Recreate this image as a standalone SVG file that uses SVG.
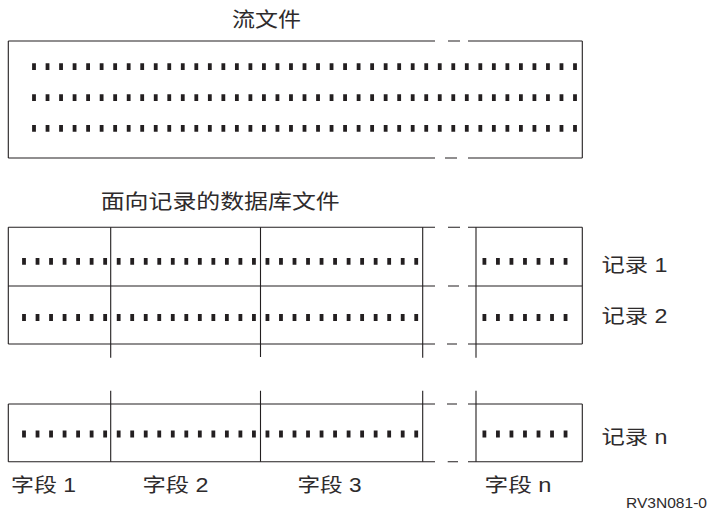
<svg xmlns="http://www.w3.org/2000/svg" width="710" height="511" viewBox="0 0 710 511">
<style>
.ln{stroke:#231f20;stroke-width:1.1;fill:none}
.dots{stroke:#231f20;stroke-width:6.8;stroke-dasharray:3.8 9.725;fill:none}
.t{font-family:"Liberation Sans","Noto Sans CJK SC",sans-serif;font-size:19.5px;fill:#2e2b2c}
.ti{font-size:20.5px}
.id{font-size:15.5px}
</style>
<rect width="710" height="511" fill="#ffffff"/>
<g id="stream-file">
<text class="t ti" x="232" y="26.5" textLength="69" lengthAdjust="spacingAndGlyphs">流文件</text>
<path class="ln" d="M8.3,41V158M582.3,41V158M8.3,41H435M448,41H460M468,41H582.3M8.3,158H435M445,158H457M468,158H582.3"/>
<path class="dots" d="M32.1,66.7H577M32.1,97.7H577M32.1,128.3H577"/>
</g>
<g id="database-file">
<text class="t ti" x="100.7" y="209" textLength="239" lengthAdjust="spacingAndGlyphs">面向记录的数据库文件</text>
<g id="record-1">
<path class="ln" d="M8.3,227.3V286M582.3,227.3V286M8.3,227.3H435M448,227.3H460M468,227.3H582.3"/>
<path class="dots" d="M22.1,261.3H418.2M482.5,261.3H567.5"/>
<text class="t" x="601.5" y="272" textLength="66" lengthAdjust="spacingAndGlyphs">记录 1</text>
</g>
<g id="record-2">
<path class="ln" d="M8.3,286V344M582.3,286V344M8.3,286H435M448,286H459M468,286H582.3M8.3,344H435M447,344H457M468,344H582.3"/>
<path class="dots" d="M22.1,317.5H418.2M482.5,317.5H567.5"/>
<text class="t" x="601.5" y="322.5" textLength="66" lengthAdjust="spacingAndGlyphs">记录 2</text>
</g>
<g id="field-dividers-upper">
<path class="ln" d="M110.7,227.3V357.7M260.5,227.3V357M422.7,227.3V357.7M476,227.3V357.7"/>
</g>
<g id="record-n">
<path class="ln" d="M8.3,404V461.7M582.3,404V461.7M8.3,404H435M447,404H457M468,404H582.3M8.3,461.7H435M447.7,461.7H458M468,461.7H582.3"/>
<path class="ln" d="M110.7,390.7V461.7M260.5,390.7V461.7M422.7,390.7V461.7M476,390.7V461.7"/>
<path class="dots" d="M22.1,434H418.2M482.5,434H567.5"/>
<text class="t" x="601.5" y="444" textLength="66" lengthAdjust="spacingAndGlyphs">记录 n</text>
</g>
<g id="field-labels">
<text class="t" x="11" y="491.5" textLength="65" lengthAdjust="spacingAndGlyphs">字段 1</text>
<text class="t" x="142.5" y="491.5" textLength="66" lengthAdjust="spacingAndGlyphs">字段 2</text>
<text class="t" x="297.5" y="491.5" textLength="64" lengthAdjust="spacingAndGlyphs">字段 3</text>
<text class="t" x="484.5" y="491.5" textLength="67" lengthAdjust="spacingAndGlyphs">字段 n</text>
</g>
</g>
<text class="t id" x="626" y="508" textLength="81" lengthAdjust="spacingAndGlyphs">RV3N081-0</text>
</svg>
